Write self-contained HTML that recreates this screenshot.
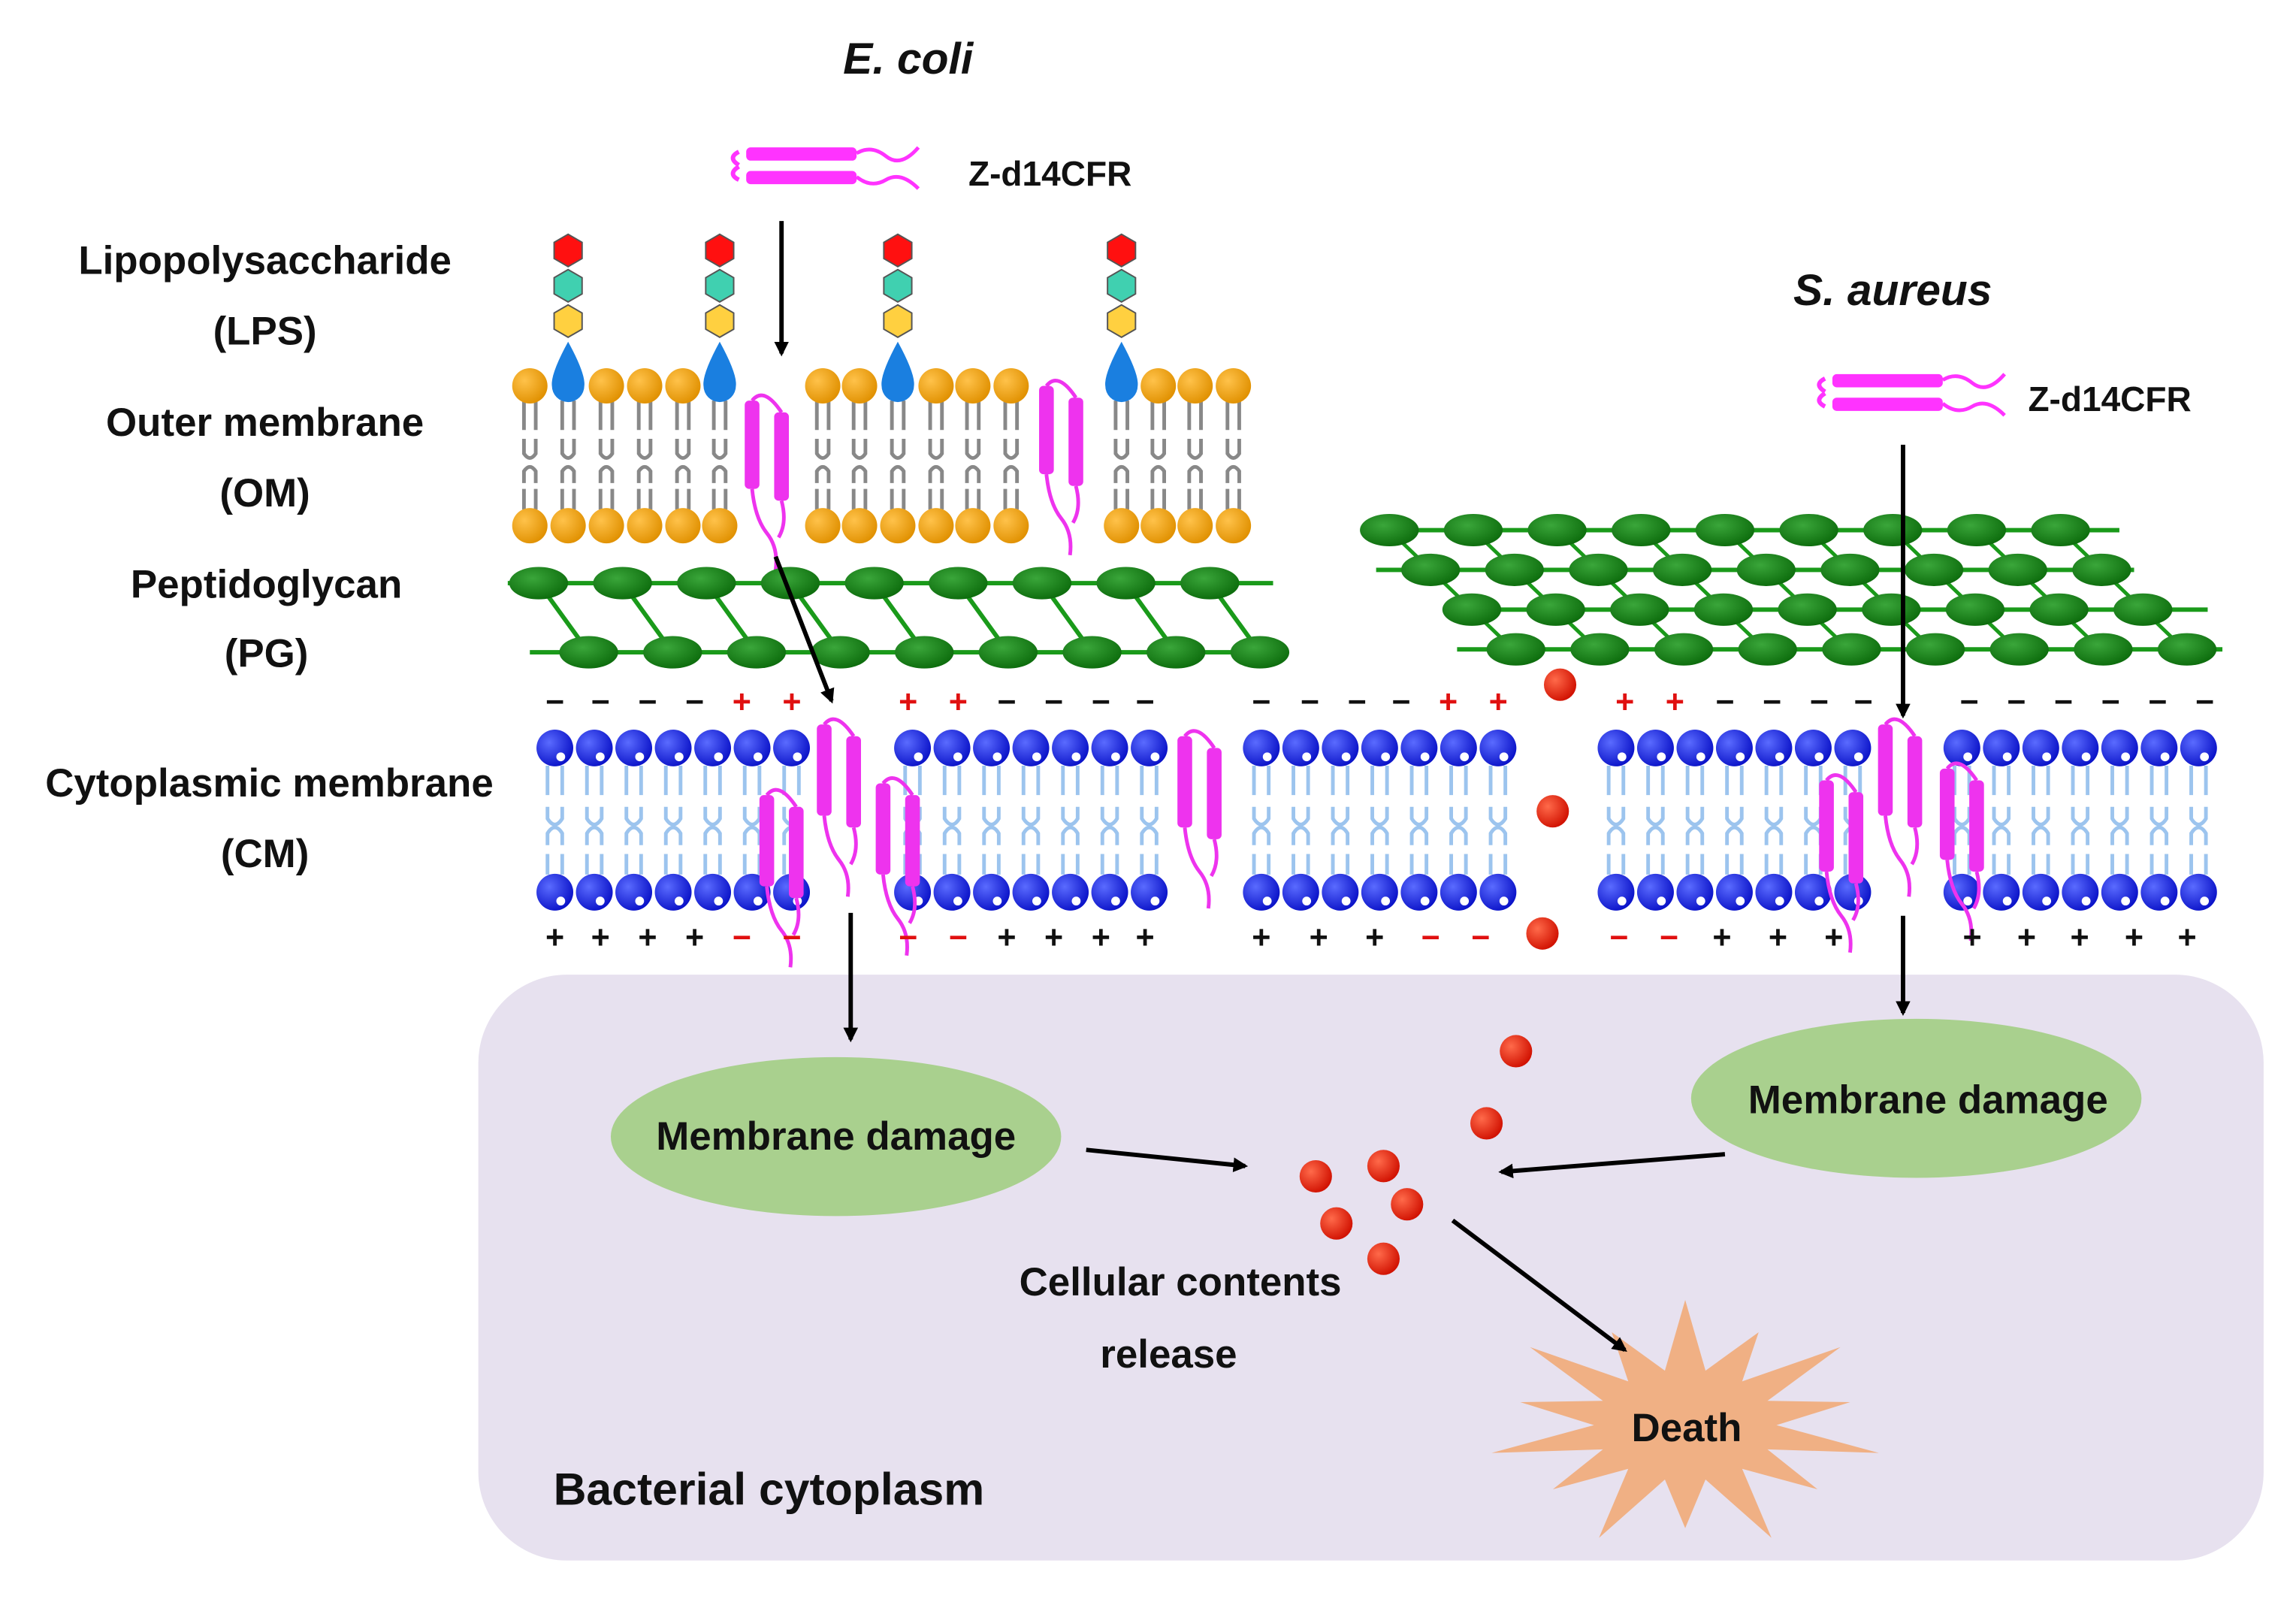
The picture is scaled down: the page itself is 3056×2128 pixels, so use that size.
<!DOCTYPE html>
<html><head><meta charset="utf-8">
<style>
html,body{margin:0;padding:0;background:#fff;}
svg{display:block;}
text{font-family:"Liberation Sans",Arial,sans-serif;font-weight:bold;fill:#111;}
</style></head>
<body>
<svg id="s" width="3056" height="2128" viewBox="0 0 1560 1086" xmlns="http://www.w3.org/2000/svg">
<defs>
<radialGradient id="gb" cx="0.35" cy="0.35" r="0.7"><stop offset="0" stop-color="#5a6bff"/><stop offset="1" stop-color="#0a12c8"/></radialGradient>
<radialGradient id="go" cx="0.35" cy="0.35" r="0.7"><stop offset="0" stop-color="#ffc24a"/><stop offset="1" stop-color="#e09000"/></radialGradient>
<radialGradient id="gr" cx="0.35" cy="0.35" r="0.7"><stop offset="0" stop-color="#ff6a4a"/><stop offset="1" stop-color="#d01000"/></radialGradient>
<radialGradient id="gg" cx="0.4" cy="0.35" r="0.7"><stop offset="0" stop-color="#3aa63a"/><stop offset="1" stop-color="#0b6a0b"/></radialGradient>
<marker id="ar" markerWidth="10" markerHeight="10" refX="8" refY="5" orient="auto" markerUnits="userSpaceOnUse"><path d="M0,0 L10,5 L0,10 z" fill="#000"/></marker>
</defs>
<rect x="325" y="662" width="1213" height="398" rx="60" fill="#e7e1ef"/>
<g id="g"></g>
<text x="617" y="50" font-size="30" font-style="italic" text-anchor="middle">E. coli</text>
<text x="1286" y="207" font-size="30" font-style="italic" text-anchor="middle">S. aureus</text>
<text x="658" y="126" font-size="23.5">Z-d14CFR</text>
<text x="1378" y="279" font-size="23.5">Z-d14CFR</text>
<g font-size="27" text-anchor="middle">
<text x="180" y="186">Lipopolysaccharide</text>
<text x="180" y="234">(LPS)</text>
<text x="180" y="296">Outer membrane</text>
<text x="180" y="344">(OM)</text>
<text x="181" y="406">Peptidoglycan</text>
<text x="181" y="453">(PG)</text>
<text x="183" y="541">Cytoplasmic membrane</text>
<text x="180" y="589">(CM)</text>
<text x="568" y="781">Membrane damage</text>
<text x="1310" y="756">Membrane damage</text>
<text x="802" y="880">Cellular contents</text>
<text x="794" y="929">release</text>
<text x="1146" y="979">Death</text>
</g>
<text x="376" y="1022" font-size="31">Bacterial cytoplasm</text>
</svg>
<script>
(function(){
var g=document.getElementById('g'),h='';
function add(s){h+=s;}
add('<ellipse cx="568" cy="772" rx="153" ry="54" fill="#a9d08e"/>');
add('<ellipse cx="1302" cy="746" rx="153" ry="54" fill="#a9d08e"/>');
var pts=[],cx=1145,cy=968,n=14;
for(var i=0;i<n*2;i++){var a=Math.PI*i/n-Math.PI/2;var r=i%2?62:(i%4?115:135);var ry=i%2?38:(i%4?70:85);pts.push((cx+r*Math.cos(a)).toFixed(1)+','+(cy+ry*Math.sin(a)).toFixed(1));}
add('<polygon points="'+pts.join(' ')+'" fill="#f0b084"/>');
function pep(x,y){add('<path d="M'+x+','+(y+3)+' q-8,4 0,9 M'+x+','+(y+22)+' q-8,-4 0,-9" stroke="#ff33ff" stroke-width="3" fill="none"/>');
add('<rect x="'+(x+5)+'" y="'+y+'" width="75" height="9" rx="3" fill="#ff33ff"/><rect x="'+(x+5)+'" y="'+(y+16)+'" width="75" height="9" rx="3" fill="#ff33ff"/>');
add('<path d="M'+(x+80)+','+(y+4)+' q10,-6 20,2 t22,-6 M'+(x+80)+','+(y+20)+' q10,8 20,2 t22,6" stroke="#ff33ff" stroke-width="2.5" fill="none"/>');}
pep(502,100);pep(1240,254);
function mp(x,y,hh){add('<rect x="'+x+'" y="'+y+'" width="10" height="'+hh+'" rx="3" fill="#ee33ee"/><rect x="'+(x+20)+'" y="'+(y+8)+'" width="10" height="'+hh+'" rx="3" fill="#ee33ee"/>');
add('<path d="M'+(x+5)+','+y+' q8,-10 20,8 M'+(x+5)+','+(y+hh)+' q2,20 10,30 t6,25 M'+(x+25)+','+(y+8+hh)+' q4,15 -2,25" stroke="#ee33ee" stroke-width="2.5" fill="none"/>');}
var heads=[360,386,412,438,464,489,559,584,610,636,661,687,762,787,812,838],blue=[386,489,610,762];
heads.forEach(function(x){
 add('<path d="M'+(x-4)+',272 v20 M'+(x+4)+',272 v20 M'+(x-4)+',298 v10 q4,6 8,0 v-10 M'+(x-4)+',328 v-8 q4,-6 8,0 v8 M'+(x-4)+',332 v14 M'+(x+4)+',332 v14" stroke="#888" stroke-width="2.5" fill="none"/>');
 add('<circle cx="'+x+'" cy="357" r="12" fill="url(#go)"/>');
 if(blue.indexOf(x)>=0){add('<path d="M'+x+',232 q-12,22 -11,30 a11,11 0 0 0 22,0 q1,-8 -11,-30z" fill="#1a7fe0"/>');
  var cols=['#ff1010','#40d0b0','#ffd040'];cols.forEach(function(c,i){var yy=170+i*24,p=[];for(var k=0;k<6;k++){var a=Math.PI/3*k+Math.PI/6;p.push((x+11*Math.cos(a)).toFixed(1)+','+(yy+11*Math.sin(a)).toFixed(1));}add('<polygon points="'+p.join(' ')+'" fill="'+c+'" stroke="#555" stroke-width="1"/>');});}
 else add('<circle cx="'+x+'" cy="262" r="12" fill="url(#go)"/>');
});
mp(506,272,60);mp(706,262,60);
add('<line x1="345" y1="396" x2="865" y2="396" stroke="#1a9a1a" stroke-width="3"/><line x1="360" y1="443" x2="875" y2="443" stroke="#1a9a1a" stroke-width="3"/>');
for(var i=0;i<9;i++){var x=366+i*57;add('<line x1="'+x+'" y1="396" x2="'+(x+34)+'" y2="443" stroke="#1a9a1a" stroke-width="3"/>');}
for(var i=0;i<9;i++){add('<ellipse cx="'+(366+i*57)+'" cy="396" rx="20" ry="11" fill="url(#gg)"/><ellipse cx="'+(400+i*57)+'" cy="443" rx="20" ry="11" fill="url(#gg)"/>');}
var rows=[[944,360,925,1440],[972,387,935,1450],[1000,414,985,1500],[1030,441,990,1510]];
rows.forEach(function(r,ri){add('<line x1="'+r[2]+'" y1="'+r[1]+'" x2="'+r[3]+'" y2="'+r[1]+'" stroke="#1a9a1a" stroke-width="3"/>');
 if(ri<3)for(var i=0;i<9;i++){var x=r[0]+i*57;add('<line x1="'+x+'" y1="'+r[1]+'" x2="'+(x+28)+'" y2="'+(r[1]+27)+'" stroke="#1a9a1a" stroke-width="2.5"/>');}});
rows.forEach(function(r){for(var i=0;i<9;i++)add('<ellipse cx="'+(r[0]+i*57)+'" cy="'+r[1]+'" rx="20" ry="11" fill="url(#gg)"/>');});
var blocks=[377,620,857,1098,1333];
blocks.forEach(function(b){for(var i=0;i<7;i++){var x=b+i*26.8;
 add('<path d="M'+(x-5)+',520 v20 M'+(x+5)+',520 v20 M'+(x-5)+',548 v8 q5,8 10,0 v-8 M'+(x-5)+',574 v-8 q5,-8 10,0 v8 M'+(x-5)+',580 v14 M'+(x+5)+',580 v14" stroke="#9cc4ee" stroke-width="2.5" fill="none"/>');
 add('<circle cx="'+x+'" cy="508" r="12.5" fill="url(#gb)"/><circle cx="'+(x+4)+'" cy="514" r="3" fill="#fff"/>');
 add('<circle cx="'+x+'" cy="606" r="12.5" fill="url(#gb)"/><circle cx="'+(x+4)+'" cy="612" r="3" fill="#fff"/>');}});
mp(516,540,62);mp(555,492,62);mp(595,532,62);mp(800,500,62);mp(1236,530,62);mp(1276,492,62);mp(1318,522,62);
function ch(list,y){list.forEach(function(c){add('<text x="'+c[0]+'" y="'+y+'" font-size="22" text-anchor="middle" style="fill:'+(c[1]=='r'?'#e01010':'#111')+'">'+c[2]+'</text>');});}
var t=[],b=[];
[377,408,440,472].forEach(function(x){t.push([x,'k','−']);b.push([x,'k','+']);});
[504,538].forEach(function(x){t.push([x,'r','+']);b.push([x,'r','−']);});
[617,651].forEach(function(x){t.push([x,'r','+']);b.push([x,'r','−']);});
[684,716,748,778].forEach(function(x){t.push([x,'k','−']);b.push([x,'k','+']);});
[857,890,922,952].forEach(function(x){t.push([x,'k','−']);});[857,896,934].forEach(function(x){b.push([x,'k','+']);});
[984,1018].forEach(function(x){t.push([x,'r','+']);});[972,1006].forEach(function(x){b.push([x,'r','−']);});
[1104,1138].forEach(function(x){t.push([x,'r','+']);});[1100,1134].forEach(function(x){b.push([x,'r','−']);});
[1172,1204,1236,1266,1338,1370,1402,1434,1466,1498].forEach(function(x){t.push([x,'k','−']);});
[1170,1208,1246,1340,1377,1413,1450,1486].forEach(function(x){b.push([x,'k','+']);});
ch(t,484);ch(b,644);
[[1060,465],[1055,551],[1048,634],[1030,714],[1010,763],[940,792],[894,799],[956,818],[908,831],[940,855]].forEach(function(p){add('<circle cx="'+p[0]+'" cy="'+p[1]+'" r="11" fill="url(#gr)"/>');});
function ar(a,b,c,d){add('<line x1="'+a+'" y1="'+b+'" x2="'+c+'" y2="'+d+'" stroke="#000" stroke-width="3" marker-end="url(#ar)"/>');}
ar(531,150,531,240);ar(527,378,565,476);ar(578,620,578,706);ar(1293,302,1293,486);ar(1293,622,1293,688);
ar(738,781,846,792);ar(1172,784,1020,796);ar(987,829,1104,917);
g.innerHTML=h;
})();
</script>
</body></html>
